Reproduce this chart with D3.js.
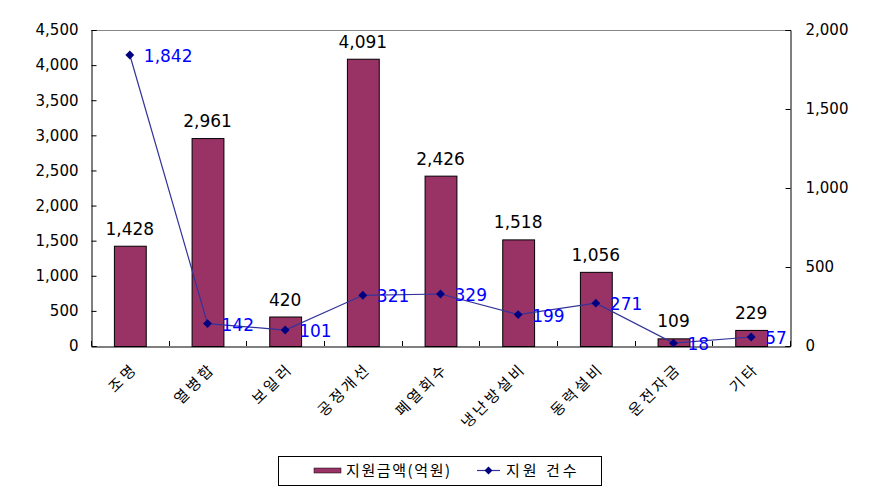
<!DOCTYPE html>
<html><head><meta charset="utf-8">
<script src="https://cdn.jsdelivr.net/npm/d3@7"></script>
<style>body{margin:0;background:#fff}svg{display:block}</style>
</head><body><svg id="c" width="878" height="491" font-family="'Noto Sans CJK KR','DejaVu Sans',sans-serif"></svg>
<script>
const categories = ["조명","열병합","보일러","공정개선","폐열회수","냉난방설비","동력설비","운전자금","기타"];
const amounts = [1428, 2961, 420, 4091, 2426, 1518, 1056, 109, 229];
const counts = [1842, 142, 101, 321, 329, 199, 271, 18, 57];
const leftTicks = [0,500,1000,1500,2000,2500,3000,3500,4000,4500];
const rightTicks = [0,500,1000,1500,2000];
const seriesNames = ["지원금액(억원)","지원 건수"];

const svg = d3.select("#c");
const L=91, R=790, T=30, B=346;
const NUM = "'DejaVu Sans',sans-serif";
const KR = "'Noto Sans CJK KR',sans-serif";
const x = d3.scaleBand().domain(categories).range([L,R]).paddingInner(0.59).paddingOuter(0.295);
const xb = d3.scaleBand().domain(categories).range([L,R]);
const yL = d3.scaleLinear().domain([0,4500]).range([B,T]);
const yR = d3.scaleLinear().domain([0,2000]).range([B,T]);
const fmt = d3.format(",");

// plot frame top
svg.append("line").attr("x1",L).attr("x2",R).attr("y1",T+0.5).attr("y2",T+0.5).attr("stroke","#888");

// bars
svg.selectAll("rect.bar").data(amounts).join("rect")
  .attr("x",(d,i)=>x(categories[i])+0.5).attr("width",x.bandwidth())
  .attr("y",d=>yL(d)+0.5).attr("height",d=>B-yL(d))
  .attr("fill","#993366").attr("stroke","#000").attr("stroke-width",1);

// left axis
const ax = svg.append("g").attr("transform",`translate(${L+0.5},0)`)
  .call(d3.axisLeft(yL).tickValues(leftTicks).tickFormat(fmt).tickSize(-5).tickPadding(13));
ax.attr("font-family",NUM).attr("font-size",15);
ax.select(".domain").attr("stroke","#000");
ax.selectAll("text").attr("fill","#000");
// right axis
const axr = svg.append("g").attr("transform",`translate(${R+0.5},0)`)
  .call(d3.axisRight(yR).tickValues(rightTicks).tickFormat(fmt).tickSize(-5).tickPadding(15));
axr.attr("font-family",NUM).attr("font-size",15);
axr.selectAll("text").attr("fill","#000");
// bottom axis
const axb = svg.append("g").attr("transform",`translate(0,${B+0.5})`)
  .call(d3.axisBottom(xb).tickSize(0).tickFormat(""));
axb.select(".domain").attr("stroke","#000");
svg.selectAll("line.ct").data(d3.range(categories.length+1)).join("line")
  .attr("x1",i=>Math.round(L+i*xb.step())+0.5).attr("x2",i=>Math.round(L+i*xb.step())+0.5)
  .attr("y1",B-5).attr("y2",B).attr("stroke","#000");

// category labels
svg.selectAll("text.cat").data(categories).join("text")
  .attr("transform",d=>`translate(${xb(d)+xb.bandwidth()/2+5},${B+20}) rotate(-45)`)
  .attr("text-anchor","end").attr("dy","0.35em").attr("font-size",15).attr("font-family",KR)
  .attr("letter-spacing",3).text(d=>d);

// bar labels
svg.selectAll("text.bl").data(amounts).join("text")
  .attr("x",(d,i)=>xb(categories[i])+xb.bandwidth()/2).attr("y",d=>yL(d)-11)
  .attr("text-anchor","middle").attr("font-size",17).attr("font-family",NUM).text(d=>fmt(d));

// line
const cx = i=>xb(categories[i])+xb.bandwidth()/2;
svg.append("path").datum(counts)
  .attr("d",d3.line().x((d,i)=>cx(i)).y(d=>yR(d)))
  .attr("fill","none").attr("stroke","#333399").attr("stroke-width",1.2);
svg.selectAll("path.mk").data(counts).join("path")
  .attr("d",d3.symbol(d3.symbolDiamond2,50))
  .attr("transform",(d,i)=>`translate(${cx(i)},${yR(d)})`).attr("fill","#000080");
svg.selectAll("text.ll").data(counts).join("text")
  .attr("x",(d,i)=>cx(i)+14).attr("y",d=>yR(d)+1).attr("dy","0.35em")
  .attr("font-size",17).attr("fill","#0000ff").attr("font-family",NUM).text(d=>fmt(d));

// legend
const lg = svg.append("g");
lg.append("rect").attr("x",278.5).attr("y",456.5).attr("width",323).attr("height",29).attr("fill","#fff").attr("stroke","#000");
lg.append("rect").attr("x",314).attr("y",468).attr("width",27).attr("height",5).attr("fill","#993366").attr("stroke","#000").attr("stroke-width",0.5);
lg.append("text").attr("x",346).attr("y",471).attr("dy","0.35em").attr("font-size",15).attr("font-family",KR).attr("letter-spacing",1.6).text(seriesNames[0]);
lg.append("line").attr("x1",477).attr("x2",500).attr("y1",470.5).attr("y2",470.5).attr("stroke","#333399").attr("stroke-width",1.2);
lg.append("path").attr("d",d3.symbol(d3.symbolDiamond2,40)).attr("transform","translate(488.5,470.5)").attr("fill","#000080");
lg.append("text").attr("x",506).attr("y",471).attr("dy","0.35em").attr("font-size",15).attr("font-family",KR).attr("letter-spacing",3).text(seriesNames[1]);
</script></body></html>
